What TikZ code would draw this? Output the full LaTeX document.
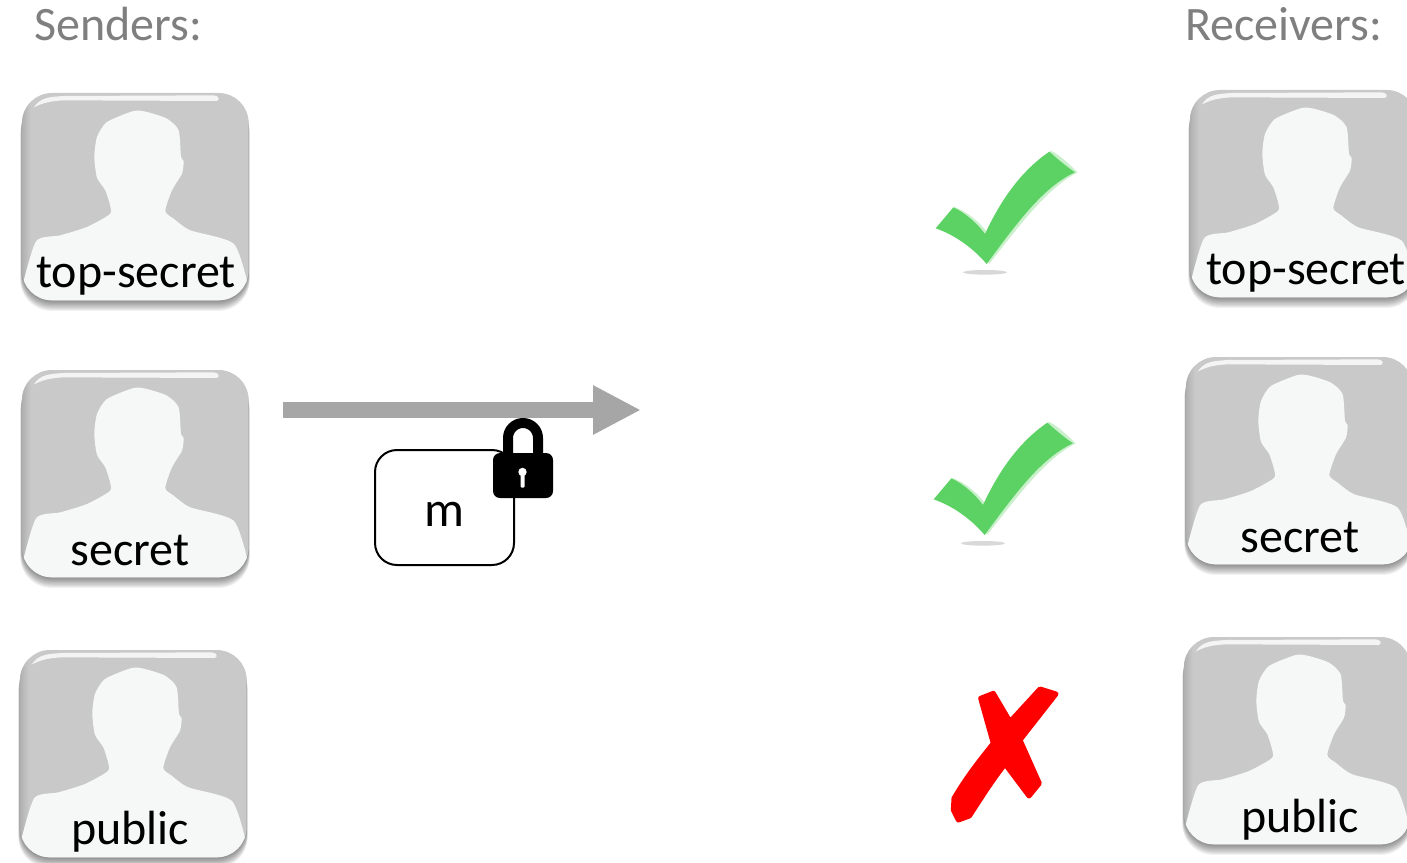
\documentclass[tikz,border=0pt]{standalone}
\usepackage{fontspec}
\setmainfont{Carlito}
\usetikzlibrary{arrows.meta}
\definecolor{cardgray}{HTML}{C9C9C9}
\definecolor{sil}{HTML}{F6F8F7}
\definecolor{headgray}{HTML}{7F7F7F}
\definecolor{arrowgray}{HTML}{A6A6A6}
\definecolor{okgreen}{HTML}{5DD264}
\definecolor{okedge}{HTML}{C9F0CB}
\tikzset{
  lbl/.style={font=\fontsize{48}{52}\selectfont,text=black,inner sep=0pt,anchor=base},
  head/.style={font=\fontsize{48}{52}\selectfont,text=headgray,inner sep=0pt,anchor=base west},
  msgbox/.style={draw=black,line width=2pt,rounded corners=22pt,fill=white},
}
\newcommand{\avatar}[2]{%
\begin{scope}[shift={(#1-21.67,#2-12.67)},scale=0.3333]
  \foreach \k in {1,...,10}{
    \fill[black,opacity=0.05,rounded corners=31pt]
      ({65-0.5*\k},{38+3.2*\k}) rectangle ({745+0.3*\k},{660+3.2*\k});
  }
  \fill[cardgray,rounded corners=30pt] (65,38) rectangle (745,660);
  \begin{scope}
    \clip[rounded corners=30pt] (65,38) rectangle (745,660);
    \shade[left color=black!40,right color=cardgray,opacity=.5] (65,38) rectangle (90,660);
    \fill[sil] plot[smooth,tension=.4] coordinates {
      (68,610) (108,482) (180,465) (260,440) (328,402) (330,378) (315,330) (290,292)
      (282,230) (290,170) (320,125) (400,92) (440,95) (500,115) (535,150) (542,230)
      (550,242) (545,280) (515,330) (495,392) (520,415) (570,450) (700,490) (742,610)}
      -- (745,670) -- (65,670) -- cycle;
    \fill[white,opacity=.8] (100,82) .. controls (120,50) and (150,50) .. (190,47)
      -- (640,45) .. controls (655,47) and (660,55) .. (650,62)
      -- (190,60) .. controls (150,62) and (125,68) .. (100,82) -- cycle;
  \end{scope}
\end{scope}}
\newcommand{\okmark}[2]{%
\begin{scope}[shift={(#1,#2)},scale=0.3333]
  \fill[black!25,opacity=.6] (195,427) ellipse [x radius=66,y radius=7];
  \fill[okedge] (100,230) .. controls (145,245) and (180,280) .. (200,305) -- (195,330) -- cycle;
  \fill[okedge] (392,62) .. controls (420,75) and (450,105) .. (473,127)
    .. controls (380,175) and (300,285) .. (207,402) -- (200,380) -- (380,100) -- cycle;
  \fill[okgreen] (47,295) -- (100,232) .. controls (140,250) and (175,285) .. (195,312)
    .. controls (240,215) and (300,125) .. (388,65)
    .. controls (410,85) and (440,110) .. (465,127)
    .. controls (370,170) and (290,280) .. (200,402)
    .. controls (160,355) and (105,315) .. (47,295) -- cycle;
\end{scope}}
\begin{document}
\begin{tikzpicture}[x=1pt,y=-1pt]
\useasboundingbox (0,0) rectangle (1407,862);
\clip (0,0) rectangle (1407,862);
\fill[white] (0,0) rectangle (1407,862);

\node[head] (senders) at (34,40) {Senders:};
\node[head] (receivers) at (1185,40) {Receivers:};

\avatar{22}{93}
\avatar{22}{370}
\avatar{20}{650}
\avatar{1190}{90}
\avatar{1186}{357}
\avatar{1184}{637}

\node[lbl] (s1) at (136,287) {top-secret};
\node[lbl] (s2) at (130,565) {secret};
\node[lbl] (s3) at (130,844) {public};
\node[lbl] (r1) at (1306,284) {top-secret};
\node[lbl] (r2) at (1300,552) {secret};
\node[lbl] (r3) at (1300,832) {public};

% arrow
\coordinate (astart) at (283,410);
\coordinate (aend) at (641,410);
\draw[arrowgray,line width=16pt,-{Triangle[length=48pt,width=46pt]}] (astart) -- (aend);

% message box
\node[msgbox,minimum width=139pt,minimum height=115pt,inner sep=0pt] (msg) at (444.5,507.5) {};
\node[font=\fontsize{50}{54}\selectfont,inner sep=0pt,anchor=base] (mtxt) at (444.5,526) {m};

% lock
\draw[black,line width=10pt] (508,458) -- (508,438) arc[start angle=180,end angle=360,radius=15] -- (538,458);
\fill[black,rounded corners=7pt] (493,453) rectangle (553,498);
\fill[white] (522.5,472) circle (4.2);
\fill[white,rounded corners=1pt] (520.5,473) rectangle (524.5,487.5);

% marks
\okmark{920}{130}
\okmark{918}{401}

\begin{scope}[shift={(930,670)},scale=0.3333]
\fill[red,draw=red,line width=5pt,line join=round]
  (152,85) -- (190,70) -- (240,155) -- (330,57) -- (378,72) -- (270,210) -- (328,340)
  -- (297,378) -- (225,282) .. controls (180,340) and (150,390) .. (118,438)
  -- (85,450) -- (70,420) -- (72,385) .. controls (110,320) and (150,270) .. (190,220) -- cycle;
\end{scope}
\end{tikzpicture}
\end{document}
